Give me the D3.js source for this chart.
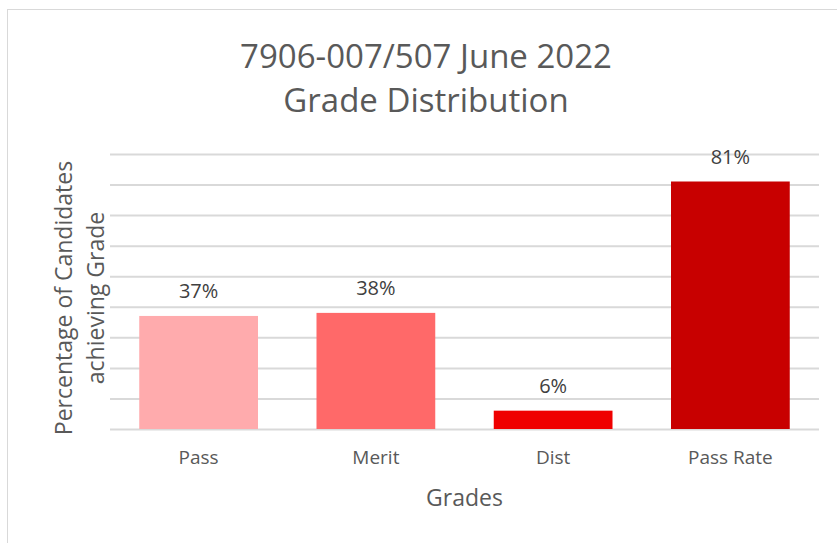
<!DOCTYPE html>
<html>
<head>
<meta charset="utf-8">
<script src="https://cdn.jsdelivr.net/npm/d3@7"></script>
<style>
  body { margin: 0; background: #fff; }
  text { font-family: "Open Sans", sans-serif; }
</style>
</head>
<body>
<div id="chart"></div>
<script>
// Chart data
const grades = ["Pass", "Merit", "Dist", "Pass Rate"];
const percentages = [0.37, 0.38, 0.06, 0.81];
const barColors = ["#ffabad", "#ff6969", "#ef0000", "#c80000"];
const gridTicks = [0, 0.1, 0.2, 0.3, 0.4, 0.5, 0.6, 0.7, 0.8, 0.9];

const W = 837, H = 543;
const margin = { top: 154, right: 18, bottom: 114, left: 110 };
const width = W - margin.left - margin.right;
const height = H - margin.top - margin.bottom;

const svg = d3.select("#chart")
  .append("svg")
  .attr("width", W)
  .attr("height", H);

// chart border
svg.append("rect")
  .attr("x", 7.5).attr("y", 9.5)
  .attr("width", 840).attr("height", 540)
  .attr("fill", "none")
  .attr("stroke", "#d9d9d9");

const g = svg.append("g")
  .attr("transform", `translate(${margin.left},${margin.top})`);

const xScale = d3.scaleBand()
  .domain(grades)
  .range([0, width])
  .paddingInner(0.33)
  .paddingOuter(0.165);

const yScale = d3.scaleLinear()
  .domain([0, 0.9])
  .range([height, 0]);

// gridlines (no tick labels)
const yAxis = d3.axisLeft(yScale)
  .tickValues(gridTicks)
  .tickSize(-width)
  .tickFormat("");
g.append("g")
  .call(yAxis)
  .call(s => s.select(".domain").remove())
  .call(s => s.selectAll("line").attr("stroke", "#d9d9d9").attr("stroke-width", 2));

// bars
g.selectAll(".bar")
  .data(grades)
  .enter()
  .append("rect")
  .attr("class", "bar")
  .attr("x", d => xScale(d))
  .attr("y", (d, i) => yScale(percentages[i]))
  .attr("width", xScale.bandwidth())
  .attr("height", (d, i) => height - yScale(percentages[i]))
  .attr("fill", (d, i) => barColors[i]);

// data labels
g.selectAll(".lbl")
  .data(grades)
  .enter()
  .append("text")
  .attr("x", d => xScale(d) + xScale.bandwidth() / 2)
  .attr("y", (d, i) => yScale(percentages[i]) - 18)
  .attr("text-anchor", "middle")
  .attr("fill", "#404040")
  .attr("font-size", 20)
  .text((d, i) => Math.round(percentages[i] * 100) + "%");

// x axis labels
const xAxis = d3.axisBottom(xScale).tickSize(0).tickPadding(22);
g.append("g")
  .attr("transform", `translate(0,${height})`)
  .call(xAxis)
  .call(s => s.select(".domain").remove())
  .call(s => s.selectAll("text")
    .attr("fill", "#595959")
    .attr("font-size", 19)
    .attr("font-family", "'Open Sans', sans-serif"));

// title
const title = svg.append("text")
  .attr("text-anchor", "middle")
  .attr("fill", "#595959")
  .attr("font-size", 33);
title.append("tspan").attr("x", 426).attr("y", 68).text("7906-007/507 June 2022");
title.append("tspan").attr("x", 426).attr("y", 112).text("Grade Distribution");

// x axis title
svg.append("text")
  .attr("x", margin.left + width / 2)
  .attr("y", 506)
  .attr("text-anchor", "middle")
  .attr("fill", "#595959")
  .attr("font-size", 23)
  .text("Grades");

// y axis title
const yTitle = svg.append("text")
  .attr("transform", `translate(0,298) rotate(-90)`)
  .attr("text-anchor", "middle")
  .attr("fill", "#595959")
  .attr("font-size", 23);
yTitle.append("tspan").attr("x", 0).attr("y", 72).text("Percentage of Candidates");
yTitle.append("tspan").attr("x", 0).attr("y", 104).text("achieving Grade");
</script>
</body>
</html>
